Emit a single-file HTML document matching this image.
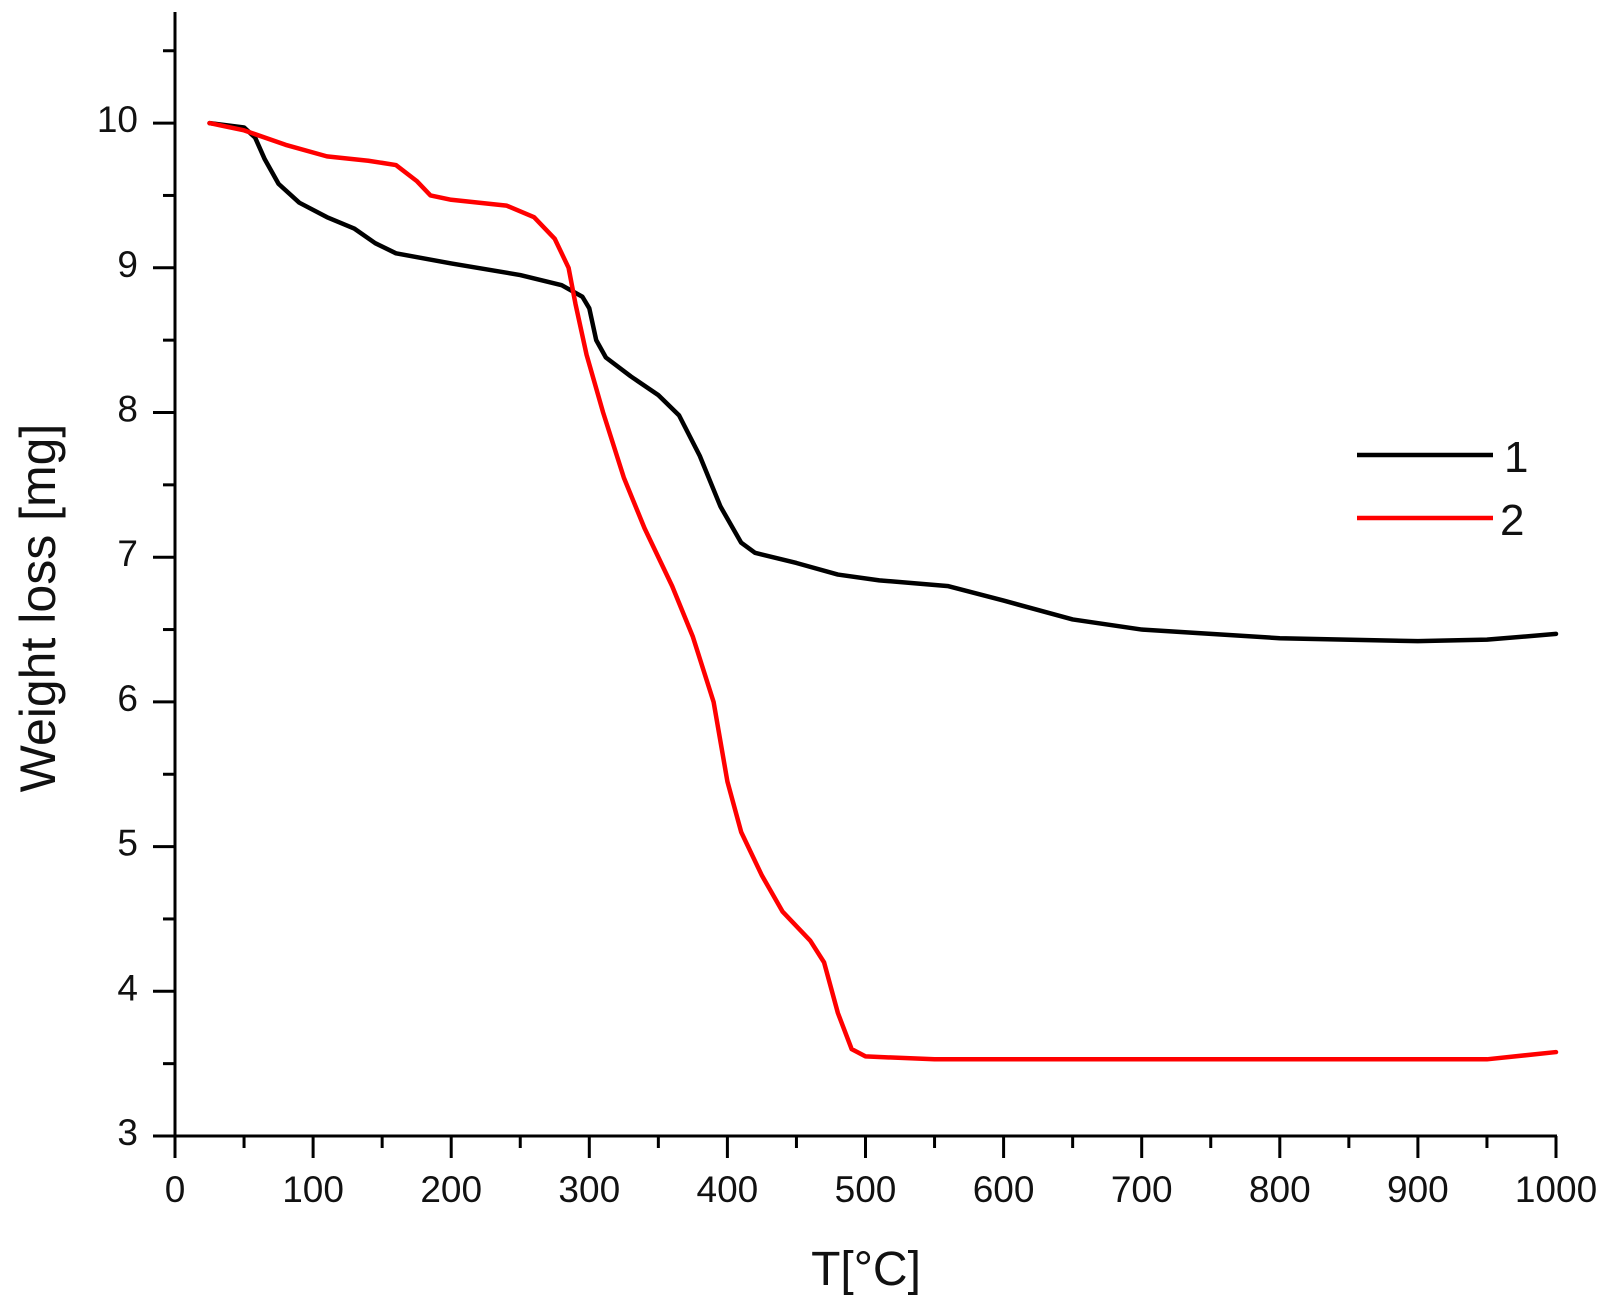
<!DOCTYPE html>
<html><head><meta charset="utf-8"><style>
html,body{margin:0;padding:0;background:#fff;}
svg{display:block;}
text{font-family:"Liberation Sans",Arial,sans-serif;fill:#111;}
</style></head><body>
<svg width="1615" height="1310" viewBox="0 0 1615 1310" xmlns="http://www.w3.org/2000/svg">
<g stroke="#000" stroke-width="3" fill="none">
<line x1="175" y1="12" x2="175" y2="1138"/>
<line x1="173" y1="1136" x2="1557" y2="1136"/>
<path id="ticks" d=""/>
</g>
<g id="tk" stroke="#000" stroke-width="3"></g>
<g id="lbl" font-size="37"></g>
<g transform="translate(175,1570.1) scale(1.381,-144.7)" fill="none" stroke-linejoin="round" stroke-linecap="round">
<polyline vector-effect="non-scaling-stroke" stroke="#000" stroke-width="4.5" points="25,10.0 50,9.97 58,9.9 65,9.75 75,9.58 90,9.45 110,9.35 130,9.27 145,9.17 160,9.1 200,9.03 250,8.95 280,8.88 295,8.8 300,8.72 305,8.5 312,8.38 330,8.25 350,8.12 365,7.98 380,7.7 395,7.35 410,7.1 420,7.03 450,6.96 480,6.88 510,6.84 560,6.8 600,6.7 650,6.57 700,6.5 800,6.44 900,6.42 950,6.43 1000,6.47"/>
<polyline vector-effect="non-scaling-stroke" stroke="#f00" stroke-width="4.5" points="25,10.0 50,9.95 80,9.85 110,9.77 140,9.74 160,9.71 175,9.6 185,9.5 200,9.47 240,9.43 260,9.35 275,9.2 285,9.0 290,8.75 298,8.4 310,8.0 325,7.55 340,7.2 360,6.8 375,6.45 390,6.0 400,5.45 410,5.1 425,4.8 440,4.55 460,4.35 470,4.2 480,3.85 490,3.6 500,3.55 550,3.53 800,3.53 950,3.53 1000,3.58"/>
</g>
<line x1="1357" y1="455" x2="1493" y2="455" stroke="#000" stroke-width="4.5"/>
<line x1="1357" y1="518" x2="1493" y2="518" stroke="#f00" stroke-width="4.5"/>
<text x="1504" y="472" font-size="44">1</text>
<text x="1500" y="535" font-size="44">2</text>
<text x="0" y="0" font-size="50" text-anchor="middle" transform="translate(55,608) rotate(-90)">Weight loss [mg]</text>
<text x="866" y="1285" font-size="48" text-anchor="middle">T[°C]</text>
</svg>
<script>
var ns="http://www.w3.org/2000/svg",tk=document.getElementById("tk"),lb=document.getElementById("lbl");
function ln(a,b,c,d){var l=document.createElementNS(ns,"line");l.setAttribute("x1",a);l.setAttribute("y1",b);l.setAttribute("x2",c);l.setAttribute("y2",d);tk.appendChild(l);}
function tx(x,y,s,anc){var t=document.createElementNS(ns,"text");t.setAttribute("x",x);t.setAttribute("y",y);t.setAttribute("text-anchor",anc);t.textContent=s;lb.appendChild(t);}
for(var i=0;i<=20;i++){var x=175+1.381*i*50;ln(x,1136,x,i%2?1148:1158);if(i%2==0)tx(x,1202,String(i*50),"middle");}
for(var v=3;v<=10.51;v+=0.5){var y=1570.1-144.7*v;var maj=Math.abs(v-Math.round(v))<0.01;ln(175,y,maj?153:163,y);if(maj)tx(138,y+9,String(Math.round(v)),"end");}
</script>
</body></html>
